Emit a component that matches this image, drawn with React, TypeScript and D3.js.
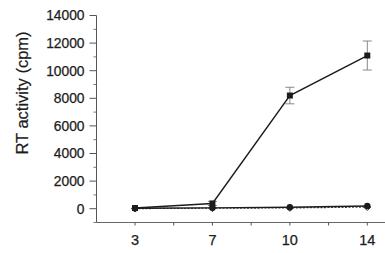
import React from "react";
import * as d3 from "d3";

const days = ["3", "7", "10", "14"];
const seriesA = [50, 380, 8200, 11100];
const errA = [0, 150, 600, 1050];
const seriesB = [30, 60, 100, 200];
const seriesC = [10, 40, 60, 120];
const yTicks = [0, 2000, 4000, 6000, 8000, 10000, 12000, 14000];
const yMinor = [-1000, 1000, 3000, 5000, 7000, 9000, 11000, 13000];

const W = 385;
const H = 253;

export default function App() {
  const x = d3.scalePoint<string>().domain(days).range([135, 367.3]);
  const y = d3.scaleLinear().domain([-1000, 14000]).range([222.5, 15.5]);
  const axisX = 96.5;
  const axisY = 222.5;
  const font = "Arial, 'Liberation Sans', Helvetica, sans-serif";
  const ink = "#1c1c1c";

  const line = d3
    .line<number>()
    .x((_, i) => x(days[i]) as number)
    .y((d) => y(d));

  const mids = days.slice(0, -1).map((d, i) => ((x(d) as number) + (x(days[i + 1]) as number)) / 2);

  return (
    <svg
      width={W}
      height={H}
      style={{ position: "absolute", left: 0, top: 0, background: "#fff" }}
      fontFamily={font}
    >
      {/* Y axis */}
      <line x1={axisX} x2={axisX} y1={y(14000)} y2={axisY} stroke="#555" strokeWidth={1} />
      {yTicks.map((t) => (
        <g key={t}>
          <line x1={axisX - 7} x2={axisX} y1={y(t)} y2={y(t)} stroke="#555" strokeWidth={1} />
          <text
            x={axisX - 12}
            y={y(t)}
            dy="0.36em"
            textAnchor="end"
            fontSize={13.8}
            fill={ink}
            stroke={ink}
            strokeWidth={0.25}
          >
            {t}
          </text>
        </g>
      ))}
      {yMinor.map((t) => (
        <line key={t} x1={axisX - 3} x2={axisX} y1={y(t)} y2={y(t)} stroke="#777" strokeWidth={1} />
      ))}
      <text
        transform={`translate(28,93) rotate(-90)`}
        textAnchor="middle"
        fontSize={16.5}
        fill={ink}
        stroke={ink}
        strokeWidth={0.2}
      >
        RT activity (cpm)
      </text>

      {/* X axis */}
      <line x1={axisX} x2={W} y1={axisY} y2={axisY} stroke="#666" strokeWidth={1} />
      {days.map((d) => (
        <g key={d}>
          <line x1={x(d)} x2={x(d)} y1={axisY} y2={axisY + 3} stroke="#555" strokeWidth={1} />
          <text
            x={x(d)}
            y={245}
            textAnchor="middle"
            fontSize={14.5}
            fill={ink}
            stroke={ink}
            strokeWidth={0.25}
          >
            {d}
          </text>
        </g>
      ))}
      {mids.map((m, i) => (
        <line key={i} x1={m} x2={m} y1={axisY} y2={axisY + 3} stroke="#555" strokeWidth={1} />
      ))}

      {/* Series C (dotted, open diamonds) */}
      <path d={line(seriesC) || ""} fill="none" stroke="#444" strokeWidth={1.3} strokeDasharray="2,1.5" />
      {seriesC.map((v, i) => {
        const cx = x(days[i]) as number;
        const cy = y(v);
        return (
          <path
            key={i}
            d={`M${cx},${cy - 3.5}L${cx + 3.5},${cy}L${cx},${cy + 3.5}L${cx - 3.5},${cy}Z`}
            fill="#fff"
            stroke="#333"
            strokeWidth={1}
          />
        );
      })}

      {/* Series B (solid, filled circles) */}
      <path d={line(seriesB) || ""} fill="none" stroke={ink} strokeWidth={1.4} />
      {seriesB.map((v, i) => (
        <circle key={i} cx={x(days[i])} cy={y(v)} r={3.2} fill={ink} />
      ))}

      {/* Series A (solid, filled squares with error bars) */}
      {seriesA.map((v, i) => {
        const cx = x(days[i]) as number;
        const e = errA[i];
        if (e <= 0) return null;
        return (
          <g key={i} stroke="#888" strokeWidth={1}>
            <line x1={cx} x2={cx} y1={y(v + e)} y2={y(v - e)} />
            <line x1={cx - 4.5} x2={cx + 4.5} y1={y(v + e)} y2={y(v + e)} />
            <line x1={cx - 4.5} x2={cx + 4.5} y1={y(v - e)} y2={y(v - e)} />
          </g>
        );
      })}
      <path d={line(seriesA) || ""} fill="none" stroke={ink} strokeWidth={1.4} />
      {seriesA.map((v, i) => (
        <rect
          key={i}
          x={(x(days[i]) as number) - 3}
          y={y(v) - 3}
          width={6}
          height={6}
          fill={ink}
        />
      ))}
    </svg>
  );
}
